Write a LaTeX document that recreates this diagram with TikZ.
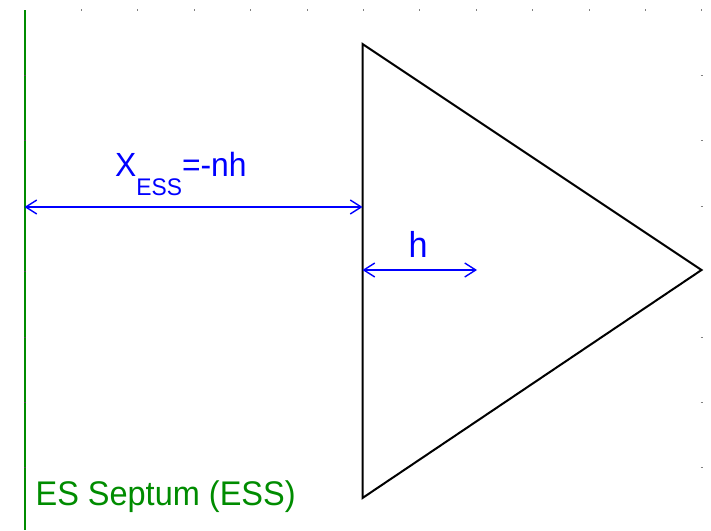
\documentclass[tikz,border=0pt]{standalone}
\usepackage{fontspec}
\setmainfont{Liberation Sans}[FakeStretch=0.95]
\usetikzlibrary{arrows.meta}
\definecolor{septgreen}{RGB}{0,140,0}
\tikzset{
  dimline/.style={draw=blue,line width=1.4pt,{Straight Barb[length=11pt,width=14pt]}-{Straight Barb[length=11pt,width=14pt]}},
  axistick/.style={draw=gray,line width=0.8pt},
  walltick/.style={draw=black!70,line width=0.8pt},
  lbl/.style={inner sep=0pt,anchor=base west}
}

\begin{document}
\begin{tikzpicture}[x=1pt,y=-1pt]
\useasboundingbox (0,0) rectangle (711,530);
% frame ticks along the top
\draw[axistick] (81.4,9) -- (81.4,11);
\draw[axistick] (137.8,9) -- (137.8,11);
\draw[axistick] (194.2,9) -- (194.2,11);
\draw[axistick] (250.6,9) -- (250.6,11);
\draw[axistick] (306.9,9) -- (306.9,11);
\draw[axistick] (363.3,9) -- (363.3,11);
\draw[axistick] (419.7,9) -- (419.7,11);
\draw[axistick] (476.1,9) -- (476.1,11);
\draw[axistick] (532.5,9) -- (532.5,11);
\draw[axistick] (588.9,9) -- (588.9,11);
\draw[axistick] (645.3,9) -- (645.3,11);
\draw[axistick] (701.7,9) -- (701.7,11);
% frame ticks along the right side
\draw[axistick] (700.7,75.4) -- (702.7,75.4);
\draw[axistick] (700.7,140.8) -- (702.7,140.8);
\draw[axistick] (700.7,206.2) -- (702.7,206.2);
\draw[axistick] (700.7,337) -- (702.7,337);
\draw[axistick] (700.7,402.4) -- (702.7,402.4);
\draw[axistick] (700.7,467.8) -- (702.7,467.8);

% septum wall
\coordinate (walltop) at (24.5,10);
\coordinate (wallbot) at (24.5,530);
\draw[septgreen,line width=2pt] (walltop) -- (wallbot);
\draw[walltick] (24,75.4) -- (25.5,75.4);
\draw[walltick] (24,140.8) -- (25.5,140.8);
\draw[walltick] (24,271.6) -- (25.5,271.6);
\draw[walltick] (24,337) -- (25.5,337);
\draw[walltick] (24,402.4) -- (25.5,402.4);
\draw[walltick] (24,467.8) -- (25.5,467.8);

% triangle
\coordinate (A) at (362.5,44);
\coordinate (B) at (362.5,498);
\coordinate (C) at (701.5,270);
\draw[black,line width=2pt,line join=miter] (A) -- (C) -- (B) -- cycle;

% distances
\coordinate (xess) at (24.5,207);
\coordinate (xtri) at (362.5,207);
\coordinate (hstart) at (362.5,270);
\coordinate (hend) at (477,270);
\draw[dimline] (xess) -- (xtri);
\draw[dimline] (hstart) -- (hend);

% labels
\node[lbl,text=blue,font=\fontsize{33.5}{36}\selectfont] (xlabel) at (115,176.7) {X\raisebox{-18.3pt}{\fontsize{24}{26}\selectfont ESS}=-nh};
\node[lbl,text=blue,font=\fontsize{36}{40}\selectfont] (hlabel) at (408.3,257.3) {h};
\node[lbl,text=septgreen,font=\fontsize{34.2}{40}\selectfont] (septlabel) at (35.4,505.7) {ES Septum (ESS)};
\end{tikzpicture}
\end{document}
